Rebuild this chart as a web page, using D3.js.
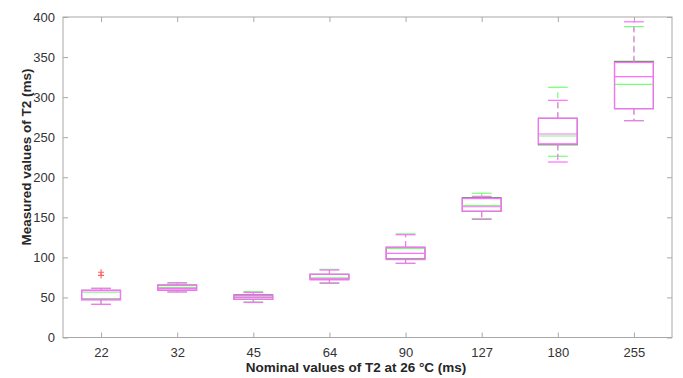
<!DOCTYPE html>
<html>
<head>
<meta charset="utf-8">
<script src="https://cdn.jsdelivr.net/npm/d3@7"></script>
<style>
  body { margin: 0; background: #fff; }
  svg { font-family: "Liberation Sans", Arial, sans-serif; }
</style>
</head>
<body>
<div id="chart"></div>
<script>
// nominal T2 values (ms) along the x axis
var categories = ["22", "32", "45", "64", "90", "127", "180", "255"];
var yTicks = [0, 50, 100, 150, 200, 250, 300, 350, 400];

// five-number summaries per category: [low whisker, q1, median, q3, high whisker]
var greenStats = [
  [41.4, 48, 56.5, 58.9, 61.4],
  [56.8, 59, 62.6, 65.5, 67.8],
  [44.5, 47.7, 50.8, 53.3, 57.2],
  [68.5, 72.9, 74.3, 78.9, 85],
  [92.6, 98.2, 111.3, 112.6, 129.3],
  [148.5, 157.5, 164.5, 174.5, 180],
  [226.2, 240.5, 251.5, 273.6, 312.3],
  [270.6, 285.6, 316, 344.6, 388]
];
var magentaStats = [
  [41.4, 46.8, 58.6, 58.9, 61.4],
  [56.8, 59, 61.3, 65.5, 68.4],
  [43.7, 47.7, 50.2, 52.4, 56.2],
  [67.6, 71.9, 73.3, 78.9, 84.2],
  [92.6, 97.2, 105, 112.6, 128.3],
  [147.4, 157.5, 163.2, 173.4, 176.2],
  [219, 241.8, 254, 273.6, 296],
  [270.6, 285.6, 325.5, 343.2, 394]
];
// outliers: [category, value]
var outliers = [["22", 81.5], ["22", 77.5]];

var width = 683, height = 378;
var plotLeft = 63, plotRight = 672, plotTop = 17, plotBottom = 337.5;

var svg = d3.select("#chart")
            .append("svg")
            .attr("width", width)
            .attr("height", height);

var x = d3.scalePoint()
          .domain(categories)
          .range([plotLeft, plotRight])
          .padding(0.5);
var y = d3.scaleLinear()
          .domain([0, 400])
          .range([plotBottom, plotTop]);

var step = x.step();
var boxW = step * 0.51, capW = step * 0.26;

// axes box with inward ticks on all sides
var axisColor = "#a8a8a8";
svg.append("rect")
   .attr("x", plotLeft).attr("y", plotTop)
   .attr("width", plotRight - plotLeft).attr("height", plotBottom - plotTop)
   .attr("fill", "none")
   .attr("stroke", axisColor)
   .attr("stroke-width", 1);

var axisB = svg.append("g").attr("transform", "translate(0," + plotBottom + ")")
               .call(d3.axisBottom(x).tickSizeInner(-5).tickSizeOuter(0).tickPadding(10));
var axisT = svg.append("g").attr("transform", "translate(0," + plotTop + ")")
               .call(d3.axisTop(x).tickSizeInner(-5).tickSizeOuter(0).tickFormat(""));
var axisL = svg.append("g").attr("transform", "translate(" + plotLeft + ",0)")
               .call(d3.axisLeft(y).tickValues(yTicks).tickSizeInner(-5).tickSizeOuter(0).tickPadding(8));
var axisR = svg.append("g").attr("transform", "translate(" + plotRight + ",0)")
               .call(d3.axisRight(y).tickValues(yTicks).tickSizeInner(-5).tickSizeOuter(0).tickFormat(""));

[axisB, axisT, axisL, axisR].forEach(function(a) {
    a.select(".domain").remove();
    a.selectAll("line").attr("stroke", axisColor);
    a.selectAll("text")
     .attr("fill", "#333")
     .style("font-size", "13px")
     .style("font-family", "'Liberation Sans', Arial, sans-serif");
});

// draw one boxplot series; boxColor is the outline of the box itself
function drawBoxes(stats, color, boxColor) {
    var g = svg.append("g")
               .attr("fill", "none")
               .attr("stroke", color)
               .attr("stroke-width", 1.2);
    var groups = g.selectAll("g")
                  .data(stats)
                  .enter()
                  .append("g")
                  .attr("transform", function(d, i) { return "translate(" + x(categories[i]) + ",0)"; });

    // whiskers (dashed)
    groups.append("line")
          .attr("x1", 0).attr("x2", 0)
          .attr("y1", function(d) { return y(d[3]); })
          .attr("y2", function(d) { return y(d[4]); })
          .attr("stroke-dasharray", "6,4");
    groups.append("line")
          .attr("x1", 0).attr("x2", 0)
          .attr("y1", function(d) { return y(d[1]); })
          .attr("y2", function(d) { return y(d[0]); })
          .attr("stroke-dasharray", "6,4");
    // caps
    groups.append("line")
          .attr("x1", -capW / 2).attr("x2", capW / 2)
          .attr("y1", function(d) { return y(d[4]); })
          .attr("y2", function(d) { return y(d[4]); });
    groups.append("line")
          .attr("x1", -capW / 2).attr("x2", capW / 2)
          .attr("y1", function(d) { return y(d[0]); })
          .attr("y2", function(d) { return y(d[0]); });
    // box
    groups.append("rect")
          .attr("x", -boxW / 2)
          .attr("width", boxW)
          .attr("y", function(d) { return y(d[3]); })
          .attr("height", function(d) { return y(d[1]) - y(d[3]); })
          .attr("stroke", boxColor);
    // median
    groups.append("line")
          .attr("x1", -boxW / 2).attr("x2", boxW / 2)
          .attr("y1", function(d) { return y(d[2]); })
          .attr("y2", function(d) { return y(d[2]); });
}

drawBoxes(greenStats, "#74ff74", "#6f916f");
drawBoxes(magentaStats, "#ff6cff", "#ff6cff");

// outlier markers
var og = svg.append("g").attr("stroke", "#ff6060").attr("stroke-width", 1.1);
og.selectAll("path")
  .data(outliers)
  .enter()
  .append("path")
  .attr("d", function(d) {
      var cx = x(d[0]), cy = y(d[1]);
      return "M" + (cx - 3) + "," + cy + "H" + (cx + 3) + "M" + cx + "," + (cy - 3) + "V" + (cy + 3);
  });

// axis titles
svg.append("text")
   .attr("x", 356)
   .attr("y", 372)
   .attr("text-anchor", "middle")
   .attr("fill", "#262626")
   .style("font-size", "13.5px")
   .style("font-weight", "bold")
   .text("Nominal values of T2 at 26 °C (ms)");

svg.append("text")
   .attr("transform", "translate(31,157) rotate(-90)")
   .attr("text-anchor", "middle")
   .attr("fill", "#262626")
   .style("font-size", "13.5px")
   .style("font-weight", "bold")
   .text("Measured values of T2 (ms)");
</script>
</body>
</html>
